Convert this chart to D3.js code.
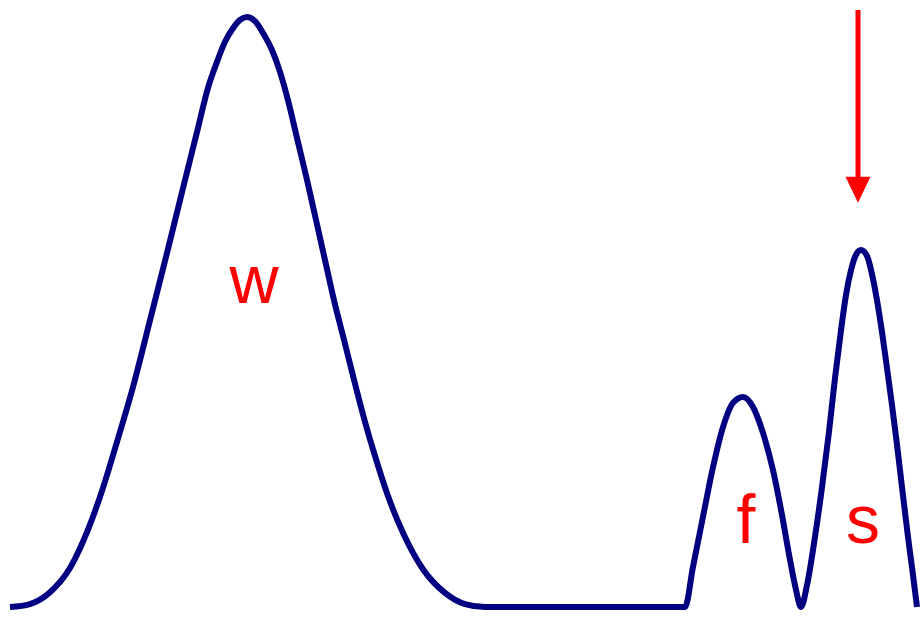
<!DOCTYPE html>
<html>
<head>
<meta charset="utf-8">
<script src="https://cdn.jsdelivr.net/npm/d3@7"></script>
<style>
  body { margin: 0; background: #fff; }
  svg { display: block; }
</style>
</head>
<body>
<div id="chart"></div>
<script>
// trace: position along axis, relative height (%)
var traceX = [0, 20, 40, 60, 78, 93, 107, 123, 140, 157, 173, 187, 198, 207, 215, 223, 230, 237,
  245, 253, 262, 270, 278, 287, 297, 306, 315, 324, 334, 344, 354, 365, 378, 394, 413, 435, 455, 475,
  675, 683, 693, 703, 713, 723, 733, 743, 753, 763, 772, 780, 786, 791,
  797, 805, 812, 819, 825, 831, 836, 841, 846, 851,
  857, 862, 867, 872, 877, 882, 887, 892, 898, 903, 907];
var traceY = [0, 0.5, 2.5, 6.6, 13.1, 20.2, 28.0, 37.3, 48.6, 60.0, 71.0, 80.5, 88.0, 92.4, 95.8, 98.1, 99.5, 100,
  99.3, 97.3, 94.4, 90.7, 85.9, 79.5, 72.4, 65.6, 58.8, 52.0, 45.3, 38.5, 32.0, 25.6, 18.8, 12.2, 6.4, 2.4, 0.5, 0,
  0, 6.8, 15.3, 23.7, 30.5, 34.6, 35.6, 33.9, 29.5, 23.2, 15.6, 8.0, 2.9, 0,
  3.7, 11.9, 20.3, 29.7, 38.8, 46.9, 52.9, 57.1, 59.7, 60.5,
  59.5, 56.4, 52.0, 46.6, 40.5, 34.2, 27.5, 20.3, 11.9, 5.4, 0];

// peak labels
var peakNames = ["w", "f", "s"];
var peakLabelX = [244, 736, 853];
var peakLabelY = [51.5, 10.8, 10.8];

// arrow marking the s peak
var arrowX = 848;
var arrowFrom = 101.2;
var arrowTo = 68.5;

var width = 922, height = 620;

var svg = d3.select("#chart").append("svg")
    .attr("width", width)
    .attr("height", height);

var x = d3.scaleLinear()
    .domain([0, 905])
    .range([10, 915]);

var y = d3.scaleLinear()
    .domain([0, 100])
    .range([607, 17]);

var data = traceX.map(function (d, i) {
    return {x: d, y: traceY[i]};
});

var line = d3.line()
    .x(function (d) { return x(d.x); })
    .y(function (d) { return y(d.y); })
    .curve(d3.curveMonotoneX);

svg.append("path")
    .datum(data)
    .attr("d", line)
    .attr("fill", "none")
    .attr("stroke", "#000080")
    .attr("stroke-width", 6)
    .attr("stroke-linejoin", "round");

svg.selectAll("text.peak")
    .data(peakNames)
    .enter().append("text")
    .attr("class", "peak")
    .attr("x", function (d, i) { return x(peakLabelX[i]); })
    .attr("y", function (d, i) { return y(peakLabelY[i]); })
    .attr("text-anchor", "middle")
    .attr("font-family", "'Liberation Sans', Arial, sans-serif")
    .attr("font-size", 68)
    .attr("fill", "#ff0000")
    .text(function (d) { return d; });

// arrow
var headLen = 26, headHalf = 12.5;
svg.append("line")
    .attr("x1", x(arrowX))
    .attr("x2", x(arrowX))
    .attr("y1", y(arrowFrom))
    .attr("y2", y(arrowTo) - headLen + 2)
    .attr("stroke", "#ff0000")
    .attr("stroke-width", 5);

svg.append("path")
    .attr("d", "M" + (x(arrowX) - headHalf) + "," + (y(arrowTo) - headLen) +
        "L" + (x(arrowX) + headHalf) + "," + (y(arrowTo) - headLen) +
        "L" + x(arrowX) + "," + y(arrowTo) + "Z")
    .attr("fill", "#ff0000");
</script>
</body>
</html>
